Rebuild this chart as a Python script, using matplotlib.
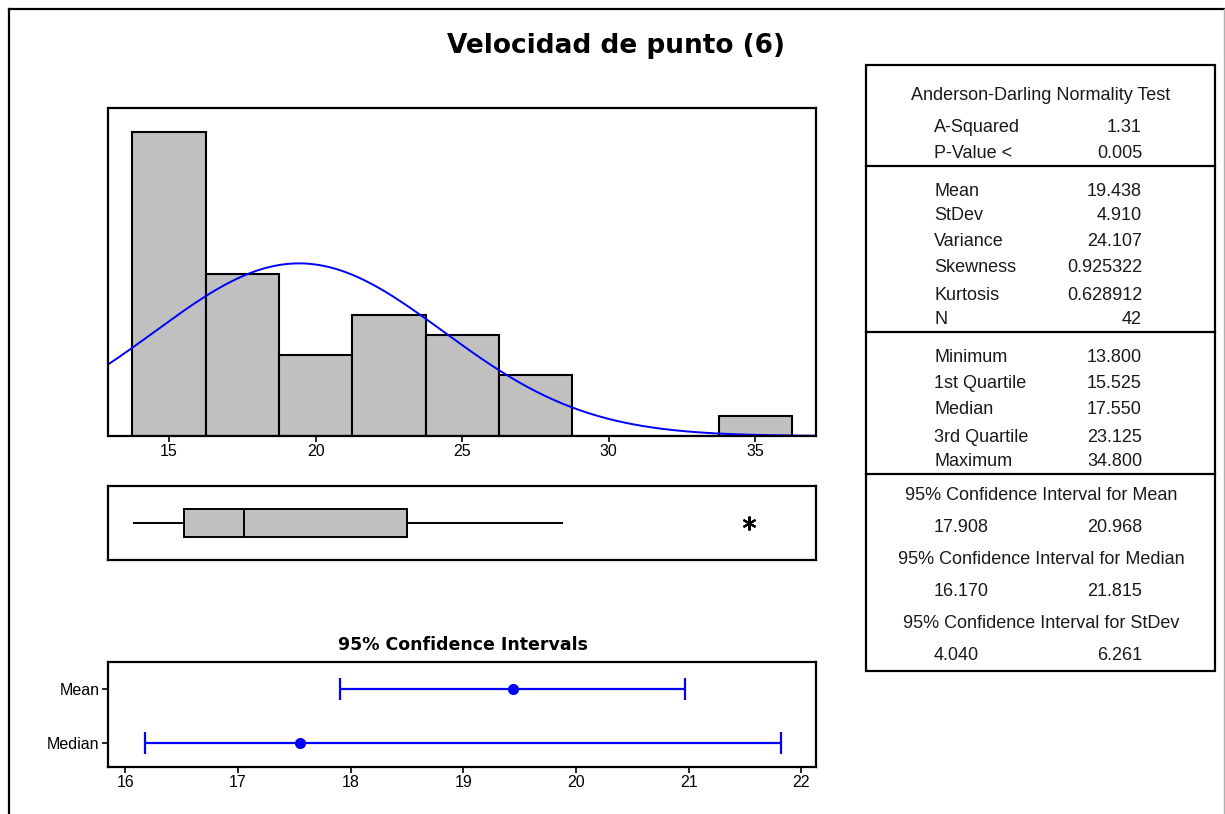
import numpy as np
import matplotlib
matplotlib.use("Agg")
import matplotlib.pyplot as plt
from matplotlib.patches import Rectangle
from matplotlib.lines import Line2D

plt.rcParams['font.family'] = ['Liberation Sans', 'DejaVu Sans']

title = "Velocidad de punto (6)"

# histogram: bin edges and counts
bin_edges = [13.75, 16.25, 18.75, 21.25, 23.75, 26.25, 28.75, 31.25, 33.75, 36.25]
bin_counts = [15, 8, 4, 6, 5, 3, 0, 0, 1]

# summary statistics
n_obs = 42
mean = 19.438
stdev = 4.910
variance = 24.107
skewness = 0.925322
kurtosis = 0.628912
a_squared = 1.31
p_value = 0.005
minimum = 13.800
q1 = 15.525
median = 17.550
q3 = 23.125
maximum = 34.800
upper_whisker = 28.4
outliers = [34.8]

ci_mean = (17.908, 20.968)
ci_median = (16.170, 21.815)
ci_stdev = (4.040, 6.261)

W, H = 1225, 814
fig = plt.figure(figsize=(W / 100, H / 100), dpi=100)


def px_axes(x0, y0, x1, y1, **kw):
    return fig.add_axes([x0 / W, 1 - y1 / H, (x1 - x0) / W, (y1 - y0) / H], **kw)


def frame(ax, lw=1.6):
    for s in ax.spines.values():
        s.set_linewidth(lw)
        s.set_color('black')


# overlay in pixel units for frame, title and table
bg = px_axes(0, 0, W, H)
bg.set_xlim(0, W)
bg.set_ylim(H, 0)
bg.axis('off')
bg.add_line(Line2D([8.5, 8.5], [9, H], color='black', lw=1.6))
bg.add_line(Line2D([8.5, W], [9, 9], color='black', lw=1.6))
bg.add_line(Line2D([1224, 1224], [9, H], color='#b0b0b0', lw=1.0))
bg.text(616, 46, title, ha='center', va='center', fontsize=19,
        fontweight='bold', family=['DejaVu Sans'])

# histogram with fitted normal curve
ax1 = px_axes(108, 108, 816, 436)
ax1.hist(np.array(bin_edges[:-1]) + 1.25, bins=bin_edges, weights=bin_counts,
         color='#c0c0c0', edgecolor='black', linewidth=1.5)
xs = np.linspace(12.9, 37.1, 400)
width = bin_edges[1] - bin_edges[0]
pdf = np.exp(-0.5 * ((xs - mean) / stdev) ** 2) / (stdev * np.sqrt(2 * np.pi))
ax1.plot(xs, pdf * n_obs * width, color='#0000ff', lw=1.4)
ax1.set_xlim(12.92, 37.07)
ax1.set_ylim(0, 16.21)
ax1.set_yticks([])
ax1.set_xticks([15, 20, 25, 30, 35])
ax1.tick_params(axis='x', length=4, width=1.2, labelsize=11.5, pad=2)
frame(ax1)

# box plot
ax2 = px_axes(108, 486, 816, 560)
ax2.bxp([dict(med=median, q1=q1, q3=q3, whislo=minimum, whishi=upper_whisker,
              fliers=outliers)],
        vert=False, widths=0.75, showcaps=False, patch_artist=True,
        boxprops=dict(facecolor='#c0c0c0', edgecolor='black', linewidth=1.4),
        medianprops=dict(color='black', linewidth=1.4),
        whiskerprops=dict(color='black', linewidth=1.4),
        flierprops=dict(marker=(6, 2, 0), markersize=10, markeredgecolor='black',
                        markeredgewidth=1.5))
ax2.set_xlim(12.92, 37.07)
ax2.set_ylim(0, 2)
ax2.set_xticks([])
ax2.set_yticks([])
frame(ax2)

# confidence interval plot
ax3 = px_axes(108, 662, 816, 767)
ci_labels = ['Mean', 'Median']
ci_centers = [mean, median]
ci_bounds = [ci_mean, ci_median]
ci_y = [2, 1]
for c, (lo, hi), y in zip(ci_centers, ci_bounds, ci_y):
    ax3.errorbar(c, y, xerr=[[c - lo], [hi - c]], fmt='o', color='#0000ff',
                 markersize=7, elinewidth=1.6, capsize=8, capthick=1.6)
ax3.set_xlim(15.845, 22.13)
ax3.set_ylim(0.55, 2.5)
ax3.set_yticks(ci_y)
ax3.set_yticklabels(ci_labels)
ax3.set_xticks([16, 17, 18, 19, 20, 21, 22])
ax3.tick_params(axis='both', length=4, width=1.2, labelsize=11.5, pad=2)
frame(ax3)
bg.text(463, 645, "95% Confidence Intervals", ha='center', va='center',
        fontsize=12.5, fontweight='bold', family=['DejaVu Sans'])

# statistics table
tf = dict(family=['Liberation Sans', 'DejaVu Sans'], fontsize=13, color='#1a1a1a')
bg.add_patch(Rectangle((866, 65), 349, 606, fill=False, edgecolor='black', lw=1.6))
for yy in [166, 332, 474]:
    bg.add_line(Line2D([866, 1215], [yy, yy], color='black', lw=1.6))

lx, rx, cx = 934, 1142, 1041
bg.text(cx, 95, "Anderson-Darling Normality Test", ha='center', va='center', **tf)
rows = [
    (127, "A-Squared", f"{a_squared:.2f}"),
    (153, "P-Value <", f"{p_value:.3f}"),
    (191, "Mean", f"{mean:.3f}"),
    (216, "StDev", f"{stdev:.3f}"),
    (242, "Variance", f"{variance:.3f}"),
    (268, "Skewness", f"{skewness:.6f}"),
    (295, "Kurtosis", f"{kurtosis:.6f}"),
    (320, "N", f"{n_obs}"),
    (358, "Minimum", f"{minimum:.3f}"),
    (384, "1st Quartile", f"{q1:.3f}"),
    (410, "Median", f"{median:.3f}"),
    (437, "3rd Quartile", f"{q3:.3f}"),
    (462, "Maximum", f"{maximum:.3f}"),
]
for yy, lab, val in rows:
    bg.text(lx, yy, lab, ha='left', va='center', **tf)
    bg.text(rx, yy, val, ha='right', va='center', **tf)

ci_rows = [
    (495, 527, "95% Confidence Interval for Mean", ci_mean),
    (559, 591, "95% Confidence Interval for Median", ci_median),
    (623, 655, "95% Confidence Interval for StDev", ci_stdev),
]
for yh, yv, head, (lo, hi) in ci_rows:
    bg.text(cx, yh, head, ha='center', va='center', **tf)
    bg.text(lx, yv, f"{lo:.3f}", ha='left', va='center', **tf)
    bg.text(rx, yv, f"{hi:.3f}", ha='right', va='center', **tf)

fig.savefig("out.png", dpi=100)
